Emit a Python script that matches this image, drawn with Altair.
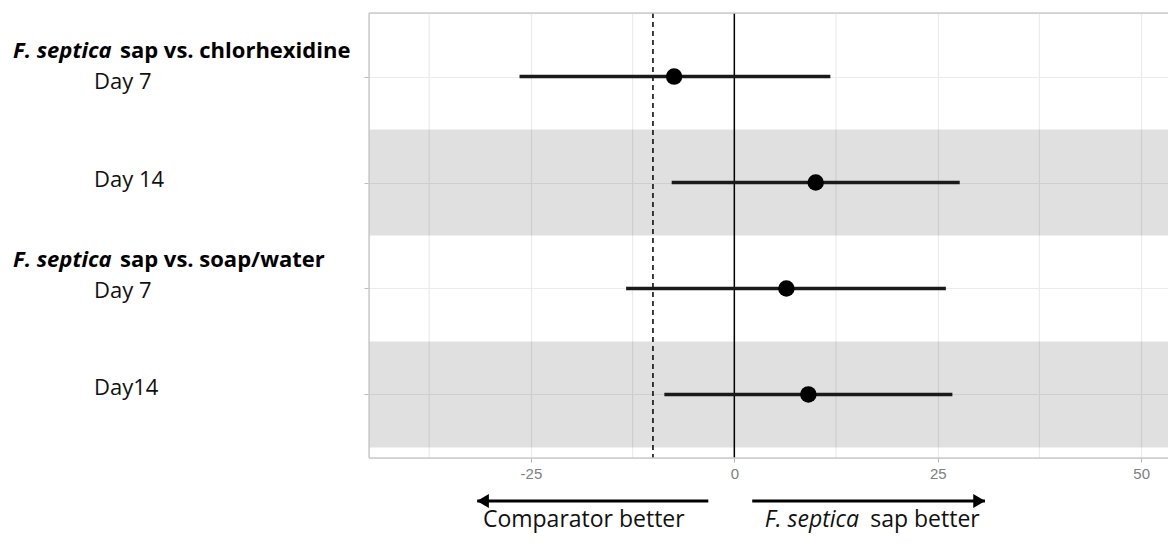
import altair as alt
import pandas as pd

# ---- data ----
comparison = ["chlorhexidine", "chlorhexidine", "soap/water", "soap/water"]
days = ["Day 7", "Day 14", "Day 7", "Day14"]
row = [1, 2, 3, 4]
estimate = [-7.4, 10.0, 6.4, 9.1]
lower = [-26.4, -7.7, -13.3, -8.6]
upper = [11.8, 27.7, 26.0, 26.8]
margin_line = [-10]
zero_line = [0]
shaded_rows = [2, 4]

x_ticks = [-25, 0, 25, 50]
x_minor = [-37.5, -12.5, 12.5, 37.5]
x_domain = [-44.9, 53.3]
y_domain = [0.4, 4.6]

header_italic = ["F. septica", "F. septica"]
header_rest = ["sap vs. chlorhexidine", "sap vs. soap/water"]
header_pos = [0.756, 2.73]
day_pos = [1.05, 1.98, 3.02, 3.94]

arrow_tail = [-3.2, 2.2]
arrow_tip = [-31.6, 30.8]
arrow_dir = ["left", "right"]
bottom_italic = ["", "F. septica"]
bottom_italic_x = [-30.9, 3.75]
bottom_rest = ["Comparator better", "sap better"]
bottom_rest_x = [-30.9, 16.7]

W, H = 799, 445
FONT = "Open Sans"

df = pd.DataFrame({"comparison": comparison, "day": days, "row": row,
                   "est": estimate, "lo": lower, "hi": upper})
bands = pd.DataFrame({"row": shaded_rows})
minor = pd.DataFrame({"v": x_minor})
heads = pd.DataFrame({"it": header_italic, "rest": header_rest, "pos": header_pos})
dlab = pd.DataFrame({"day": days, "pos": day_pos})
arrows = pd.DataFrame({"tail": arrow_tail, "tip": arrow_tip, "dir": arrow_dir})
bottom = pd.DataFrame({"it": bottom_italic, "itx": bottom_italic_x,
                       "rest": bottom_rest, "restx": bottom_rest_x})
one = pd.DataFrame({"k": [0]})

xscale = alt.Scale(domain=x_domain, nice=False, zero=False)
yscale = alt.Scale(domain=y_domain, reverse=True, nice=False, zero=False)

xaxis = alt.Axis(
    values=x_ticks, grid=True, gridColor="#ebebeb", gridWidth=1.2,
    domain=False, ticks=True, tickSize=4, tickWidth=1, tickColor="#b5b5b5",
    labelExpr="toString(datum.value)",
    labelFont="Liberation Sans", labelFontSize=15, labelColor="#808080",
    labelPadding=4, title=None,
)
yaxis = alt.Axis(
    values=row, grid=True, gridColor="#ebebeb", gridWidth=1.2, domain=False,
    ticks=True, tickSize=5, tickColor="#bdbdbd", labels=False, title=None,
)


def X(field, **kw):
    return alt.X(field, scale=xscale, axis=xaxis, **kw)


def Y(field, **kw):
    return alt.Y(field, scale=yscale, axis=yaxis, **kw)


minor_grid = alt.Chart(minor).mark_rule(color="#ebebeb", strokeWidth=1.2).encode(
    x=X("v:Q"))

band_layer = alt.Chart(bands).transform_calculate(
    y0="datum.row - 0.5", y1="datum.row + 0.5"
).mark_rect(color="black", opacity=0.12).encode(
    y=Y("y0:Q"), y2="y1:Q", x=alt.value(0), x2=alt.value(W),
)

zero_rule = alt.Chart(pd.DataFrame({"v": zero_line})).mark_rule(
    color="black", strokeWidth=1.5).encode(x=X("v:Q"))
margin_rule = alt.Chart(pd.DataFrame({"v": margin_line})).mark_rule(
    color="black", strokeWidth=1.5, strokeDash=[5, 4]).encode(x=X("v:Q"))

ci = alt.Chart(df).mark_rule(color="#1a1a1a", strokeWidth=3.5).encode(
    x=X("lo:Q"), x2="hi:Q", y=Y("row:Q"))
pts = alt.Chart(df).mark_circle(size=270, color="black", opacity=1).encode(
    x=X("est:Q"), y=Y("row:Q"))

border_col = "#cccccc"
b_top = alt.Chart(one).mark_rule(color=border_col, strokeWidth=1.5).encode(
    x=alt.value(0), x2=alt.value(W), y=alt.value(0))
b_bot = alt.Chart(one).mark_rule(color=border_col, strokeWidth=1.5).encode(
    x=alt.value(0), x2=alt.value(W), y=alt.value(H))
b_left = alt.Chart(one).mark_rule(color=border_col, strokeWidth=1.5).encode(
    x=alt.value(0), y=alt.value(0), y2=alt.value(H))

head_it = alt.Chart(heads).mark_text(
    font=FONT, fontSize=22, fontWeight="bold", fontStyle="italic",
    align="left", baseline="middle", color="black").encode(
    x=alt.value(-356), y=Y("pos:Q"), text="it:N")
head_rest = alt.Chart(heads).mark_text(
    font=FONT, fontSize=22, fontWeight="bold",
    align="left", baseline="middle", color="black").encode(
    x=alt.value(-249), y=Y("pos:Q"), text="rest:N")
day_txt = alt.Chart(dlab).mark_text(
    font=FONT, fontSize=22, align="left", baseline="middle", color="#111").encode(
    x=alt.value(-275), y=Y("pos:Q"), text="day:N")

ARROW_Y = 488
arrow_lines = alt.Chart(arrows).mark_rule(color="black", strokeWidth=3).encode(
    x=X("tail:Q"), x2="tip:Q", y=alt.value(ARROW_Y))
arrow_heads = alt.Chart(arrows).transform_calculate(
    hx="datum.dir == 'left' ? datum.tip + 0.7 : datum.tip - 0.7"
).mark_point(filled=True, color="black", opacity=1, size=190).encode(
    x=X("hx:Q"), y=alt.value(ARROW_Y),
    shape=alt.Shape("dir:N", scale=alt.Scale(domain=["left", "right"],
                                             range=["triangle-left", "triangle-right"]),
                    legend=None),
)

TEXT_Y = 514
bot_it = alt.Chart(bottom).mark_text(
    font=FONT, fontSize=23, fontStyle="italic", align="left",
    baseline="alphabetic", color="#111").encode(
    x=X("itx:Q"), y=alt.value(TEXT_Y), text="it:N")
bot_rest = alt.Chart(bottom).mark_text(
    font=FONT, fontSize=23, align="left", baseline="alphabetic", color="#111").encode(
    x=X("restx:Q"), y=alt.value(TEXT_Y), text="rest:N")

chart = alt.layer(
    minor_grid, band_layer, zero_rule, margin_rule, ci, pts,
    b_top, b_bot, b_left, head_it, head_rest, day_txt,
    arrow_lines, arrow_heads, bot_it, bot_rest,
).properties(
    width=W, height=H,
    autosize=alt.AutoSizeParams(type="none"),
    padding={"left": 361, "top": 5, "right": 0, "bottom": 77},
).configure_view(strokeWidth=0).configure(background="white")

chart.save("out.html", embed_options={"renderer": "svg", "actions": False})
